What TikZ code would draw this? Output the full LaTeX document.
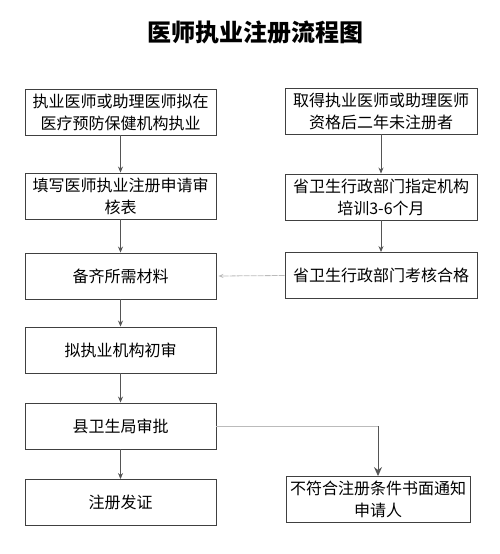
\documentclass[tikz,border=0pt]{standalone}
\usepackage{fontspec}
\setmainfont{Noto Sans CJK SC}
\usetikzlibrary{arrows.meta}
\definecolor{boxline}{HTML}{404040}
\definecolor{arrline}{HTML}{555555}
\definecolor{faint}{HTML}{BBBBBB}
\tikzset{
  box/.style={draw=boxline, line width=0.9pt, minimum height=46pt, align=center, inner sep=2pt,
    font=\fontsize{16}{22}\selectfont},
  lbox/.style={box, minimum width=191pt},
  rbox/.style={box, minimum width=192pt},
  arr/.style={draw=arrline, line width=0.8pt, -{Stealth[length=6pt,width=5pt]}},
  bigarr/.style={draw=arrline, line width=0.9pt, -{Stealth[length=9pt,width=8pt]}},
  fadearr/.style={draw=faint, line width=0.8pt, dashed, dash pattern=on 6pt off 1pt, -{Stealth[length=5pt,width=4pt]}},
  fadeline/.style={draw=faint, line width=0.8pt},
}
\begin{document}
\begin{tikzpicture}[x=1pt,y=-1pt]
\useasboundingbox (0,0) rectangle (500,554);
\node (title) at (255,32) {\fontsize{24}{28}\selectfont\bfseries 医师执业注册流程图};
\node[lbox] (L1) at (120.5,112) {执业医师或助理医师拟在\\医疗预防保健机构执业};
\node[lbox] (L2) at (120.5,196) {填写医师执业注册申请审\\核表};
\node[lbox] (L3) at (120.5,276) {备齐所需材料};
\node[lbox] (L4) at (120.5,350) {拟执业机构初审};
\node[lbox] (L5) at (120.5,426) {县卫生局审批};
\node[lbox] (L6) at (120.5,502.5) {注册发证};
\node[rbox] (R1) at (381,111) {取得执业医师或助理医师\\资格后二年未注册者};
\node[rbox] (R2) at (381,197) {省卫生行政部门指定机构\\培训3-6个月};
\node[rbox] (R3) at (381,275.5) {省卫生行政部门考核合格};
\node[box, minimum width=184pt] (R4) at (378,499.5) {不符合注册条件书面通知\\申请人};
\draw[arr] (L1) -- (L2);
\draw[arr] (L2) -- (L3);
\draw[arr] (L3) -- (L4);
\draw[arr] (L4) -- (L5);
\draw[arr] (L5) -- (L6);
\draw[arr] (R1) -- (R2);
\draw[arr] (R2) -- (R3);
\draw[fadearr] (R3.west) -- ([xshift=2pt]L3.east);
\coordinate (corner) at (R4.north |- L5.east);
\draw[fadeline] (L5.east) -- (corner);
\draw[bigarr] (corner) -- (R4.north);
\end{tikzpicture}
\end{document}
